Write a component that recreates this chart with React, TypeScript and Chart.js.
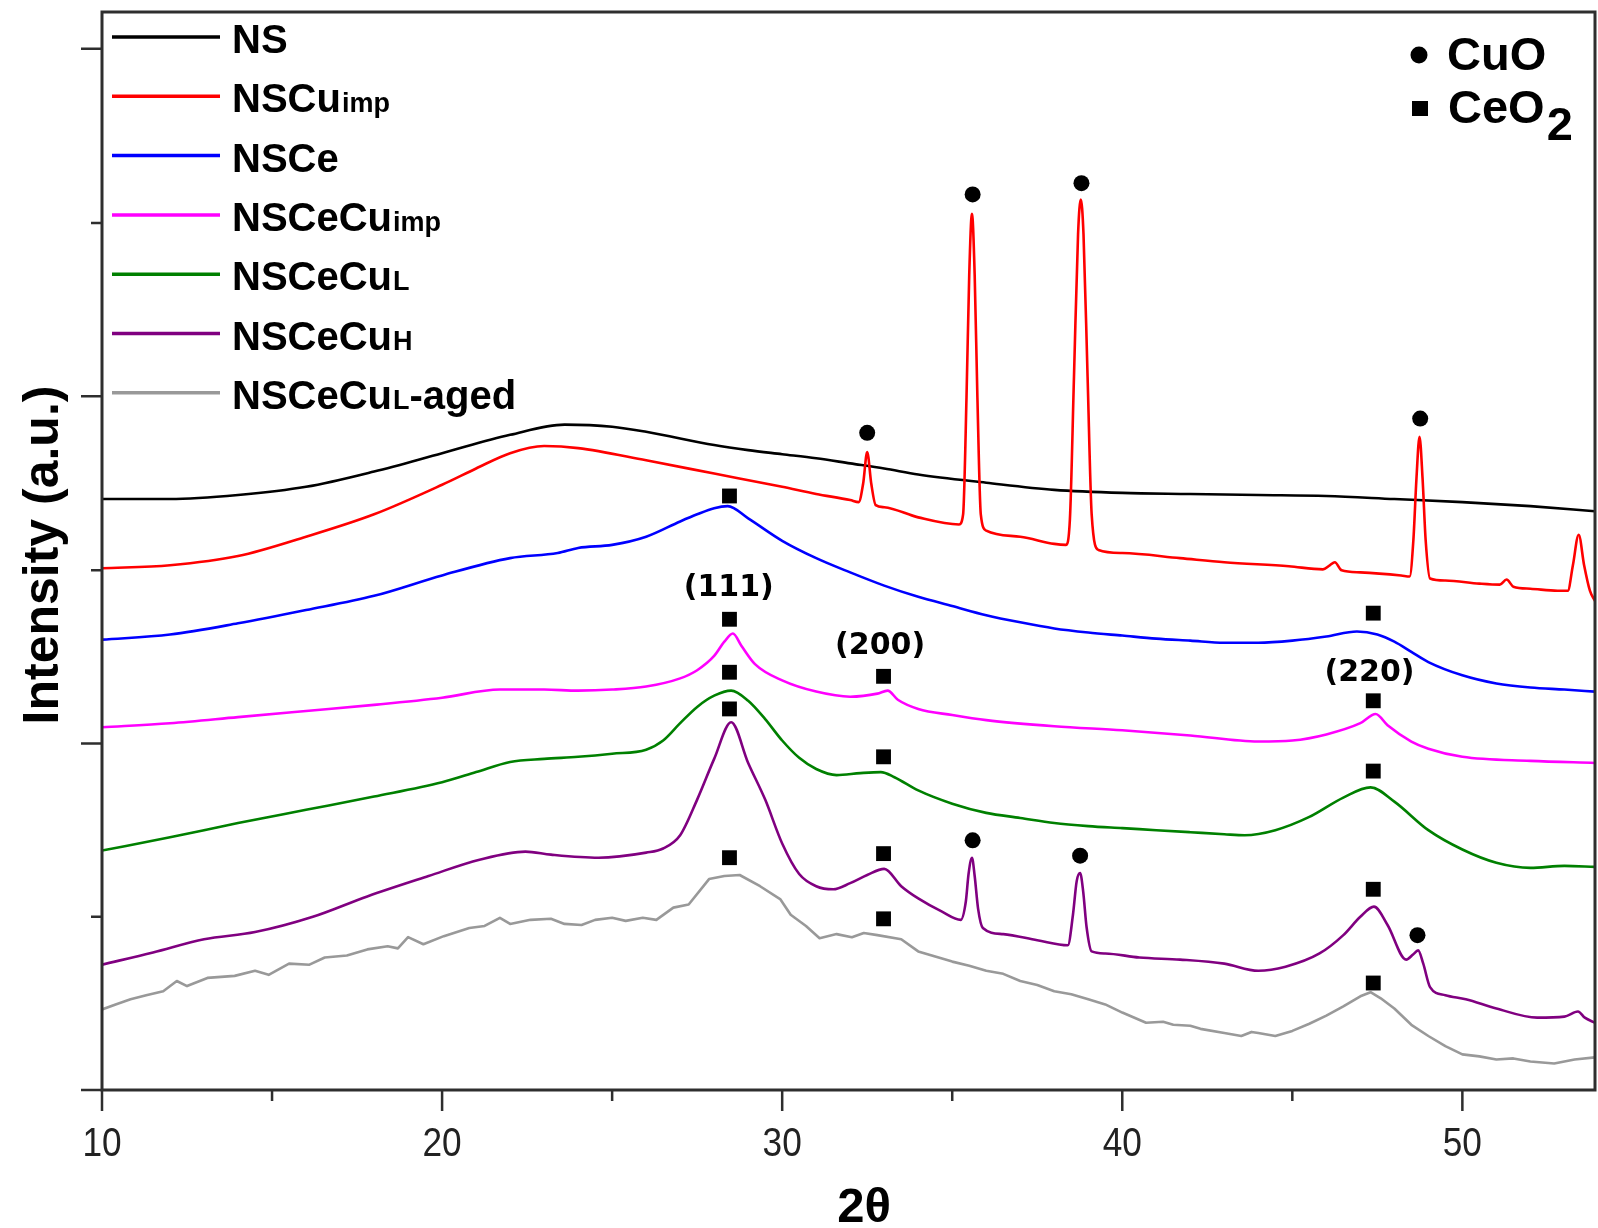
import React, { useEffect, useRef } from 'react';
import { Chart, registerables } from 'chart.js';

Chart.register(...registerables);

// ---------- axes ----------
const X_MIN = 10;
const X_MAX = 53.9;
const Y_MIN = 0;
const Y_MAX = 1058;
const X_MAJOR_TICKS = [10, 20, 30, 40, 50];
const X_TICK_LABELS = ['10', '20', '30', '40', '50'];
const X_MINOR_TICKS = [15, 25, 35, 45];
const Y_MAJOR_TICKS = [0, 340, 681, 1022];
const Y_MINOR_TICKS = [170, 510, 851];
const X_TITLE = '2θ';
const Y_TITLE = 'Intensity (a.u.)';

// ---------- series ----------
const NS_X = [10, 12, 14, 16, 18, 20, 22, 23.6, 25, 26, 28, 29, 30, 31, 32, 33, 34, 36, 38, 40, 42, 44, 46, 48, 50, 52, 53.9];
const NS_Y = [580, 580, 584, 592, 607, 625, 643, 653, 651, 646, 633, 628, 624, 620, 615, 610, 604, 596, 589, 586, 585, 584, 583, 580, 577, 573, 568];

const CU_X = [10, 12, 14, 16, 18, 20, 21, 22, 23, 24, 26, 28, 30, 31, 32, 32.25, 32.38, 32.5, 32.62, 32.75, 33, 34, 35.2, 35.32, 35.42, 35.5, 35.58, 35.66, 35.74, 35.84, 36, 37, 38, 38.34, 38.46, 38.58, 38.7, 38.78, 38.86, 38.98, 39.1, 39.3, 40, 41.7, 43, 44.9, 45.9, 46.1, 46.25, 46.45, 47, 48.2, 48.45, 48.56, 48.65, 48.74, 48.83, 48.92, 49.05, 49.5, 50.5, 51.1, 51.3, 51.5, 52, 52.8, 53.1, 53.25, 53.42, 53.58, 53.75, 53.9];
const CU_Y = [512, 515, 524, 543, 565, 594, 610, 625, 632, 630, 618, 605, 592, 585, 579, 577, 595, 626, 595, 574, 572, 562, 555, 565, 680, 800, 860, 800, 680, 565, 549, 543, 536, 535, 560, 700, 840, 874, 840, 700, 565, 530, 527, 522, 518, 514, 511, 515, 518, 510, 508, 505, 504, 540, 600, 641, 600, 540, 502, 500, 497, 496, 501, 494, 492, 490, 490, 515, 545, 515, 490, 480];

const CE_X = [10, 12, 14, 16, 18, 20, 22, 23.4, 24, 25, 26, 27, 27.5, 28, 28.4, 29, 30, 31, 32, 33, 34, 35, 36, 37, 38, 39, 40, 41, 42, 43, 44, 45, 46, 46.9, 47.5, 48, 48.5, 49, 50, 51, 52, 53, 53.9];
const CE_Y = [442, 447, 458, 471, 485, 505, 522, 527, 532, 535, 543, 558, 565, 571, 573, 561, 539, 522, 508, 495, 484, 475, 466, 459, 453, 449, 446, 443, 441, 439, 439, 441, 445, 450, 447, 440, 430, 420, 407, 399, 395, 393, 391];

const CECUIMP_X = [10, 12, 14, 16, 18, 20, 21.7, 23, 24, 25, 26, 27, 27.5, 28, 28.3, 28.55, 28.8, 29.2, 30, 31, 32, 32.8, 33.1, 33.4, 34, 35, 36, 38, 40, 42, 44, 45, 46, 47, 47.45, 47.8, 48.5, 49, 50, 52, 53.9];
const CECUIMP_Y = [356, 360, 366, 372, 378, 385, 393, 393, 392, 393, 396, 404, 412, 426, 440, 448, 436, 418, 402, 391, 386, 389, 392, 383, 374, 368, 363, 357, 353, 348, 342, 343, 349, 360, 369, 358, 342, 335, 327, 323, 321];

const CECUL_X = [10, 12, 14, 16, 18, 20, 21, 22, 23, 24, 25, 26, 26.5, 27, 27.5, 28, 28.5, 29, 29.5, 30, 30.5, 31, 31.6, 32.3, 32.9, 33.3, 34, 35, 36, 37, 38, 39, 40, 41, 42, 43, 43.6, 44.5, 45.5, 46.5, 47.3, 48, 49, 50, 51, 52, 53, 53.9];
const CECUL_Y = [235, 248, 262, 275, 288, 302, 312, 322, 325, 327, 330, 334, 343, 360, 376, 387, 392, 382, 364, 343, 326, 315, 309, 311, 312, 307, 294, 281, 272, 267, 262, 259, 257, 255, 253, 251, 250, 255, 268, 287, 297, 283, 255, 236, 223, 218, 220, 219];

const CECUH_X = [10, 11.5, 13, 14.5, 16.2, 17.8, 19.6, 21.1, 22.45, 23.2, 24.6, 26, 26.5, 27, 27.5, 28, 28.5, 29, 29.5, 30, 30.5, 31, 31.5, 32, 32.5, 33, 33.5, 34, 34.7, 35.25, 35.4, 35.48, 35.58, 35.66, 35.76, 35.9, 36.5, 37.5, 38.4, 38.55, 38.66, 38.76, 38.85, 38.95, 39.1, 39.5, 40.5, 41.7, 43, 44, 44.8, 45.8, 46.5, 47, 47.4, 47.8, 48.35, 48.55, 48.7, 48.85, 49.05, 49.5, 50.1, 51, 52.2, 53, 53.4, 53.6, 53.9];
const CECUH_Y = [123, 135, 148, 155, 170, 190, 210, 226, 234, 231, 228, 233, 237, 250, 285, 325, 361, 321, 285, 242, 212, 200, 197, 203, 211, 217, 200, 188, 175, 167, 185, 212, 228, 210, 178, 159, 153, 147, 142, 172, 205, 213, 195, 160, 136, 134, 130, 128, 124, 117, 121, 134, 152, 170, 180, 162, 128, 133, 137, 124, 101, 93, 89, 80, 71, 72, 77, 71, 66];

const AGED_X = [10, 10.4, 10.84, 11.3, 11.8, 12.2, 12.5, 13.1, 13.5, 13.9, 14.5, 14.9, 15.5, 16.1, 16.55, 17.2, 17.8, 18.4, 18.7, 19, 19.45, 20.05, 20.8, 21.25, 21.7, 22, 22.6, 23.2, 23.6, 24.1, 24.5, 25, 25.4, 25.9, 26.3, 26.8, 27.25, 27.85, 28.3, 28.75, 29.35, 29.95, 30.25, 30.7, 31.1, 31.6, 32.05, 32.4, 32.8, 33.5, 34, 34.5, 35, 35.5, 36, 36.5, 37, 37.5, 38, 38.5, 39, 39.5, 40, 40.7, 41.2, 41.5, 42, 42.3, 43, 43.5, 43.8, 44, 44.5, 45, 45.5, 46, 46.5, 47, 47.3, 47.6, 48, 48.5, 49, 49.5, 50, 50.5, 51, 51.5, 52, 52.7, 53.3, 53.9];
const AGED_Y = [79, 84, 89, 93, 97, 107, 102, 110, 111, 112, 117, 113, 124, 123, 130, 132, 138, 141, 139, 150, 143, 151, 159, 161, 169, 163, 167, 168, 163, 162, 167, 169, 166, 169, 167, 179, 182, 207, 210, 211, 200, 187, 172, 161, 149, 153, 150, 154, 152, 148, 136, 131, 126, 122, 117, 114, 107, 103, 97, 94, 89, 84, 76, 66, 67, 64, 63, 60, 56, 53, 57, 56, 53, 58, 65, 73, 82, 92, 96, 90, 80, 64, 53, 43, 35, 33, 30, 31, 28, 26, 30, 32];

const SERIES_X = [NS_X, CU_X, CE_X, CECUIMP_X, CECUL_X, CECUH_X, AGED_X];
const SERIES_Y = [NS_Y, CU_Y, CE_Y, CECUIMP_Y, CECUL_Y, CECUH_Y, AGED_Y];
const SERIES_NAMES = ['NS', 'NSCu', 'NSCe', 'NSCeCu', 'NSCeCu', 'NSCeCu', 'NSCeCu'];
const SERIES_SUBS = ['', 'imp', '', 'imp', 'L', 'H', 'L'];
const SERIES_SUFFIX = ['', '', '', '', '', '', '-aged'];
const SERIES_COLORS = ['#000000', '#ff0000', '#0000ff', '#ff00ff', '#008000', '#800080', '#999999'];
const SERIES_SMOOTH = [true, true, true, true, true, true, false];

// ---------- phase markers ----------
const CUO_X = [32.5, 35.6, 38.8, 48.76, 35.6, 38.76, 48.68];
const CUO_Y = [645, 879, 890, 659, 245, 230, 152];
const CEO2_X = [28.45, 28.45, 28.45, 28.45, 28.45, 32.98, 32.98, 32.98, 32.98, 47.38, 47.38, 47.38, 47.38, 47.38];
const CEO2_Y = [583, 462, 410, 374, 228, 406, 327, 232, 168, 468, 382, 313, 197, 105];
const PHASE_NAMES = ['CuO', 'CeO'];
const PHASE_SUBS = ['', '2'];

// ---------- hkl labels ----------
const HKL_LABELS = ['(111)', '(200)', '(220)'];
const HKL_X = [28.43, 32.88, 47.27];
const HKL_Y = [485, 428, 401];

const FONT = '"Liberation Sans", Arial, Helvetica, sans-serif';
const AXIS_COLOR = '#2e2e2e';

function pts(xs: number[], ys: number[]) {
  return xs.map((x, i) => ({ x, y: ys[i] }));
}

export default function App() {
  const ref = useRef<HTMLCanvasElement>(null);

  useEffect(() => {
    const canvas = ref.current;
    if (!canvas) return;

    const decor = {
      id: 'decor',
      afterDraw(chart: any) {
        const { ctx, chartArea: a } = chart;
        const xs = chart.scales.x;
        const ys = chart.scales.y;
        ctx.save();

        // frame
        ctx.strokeStyle = AXIS_COLOR;
        ctx.lineWidth = 3;
        ctx.strokeRect(a.left, a.top, a.right - a.left, a.bottom - a.top);

        // ticks
        ctx.lineWidth = 2.5;
        ctx.beginPath();
        X_MAJOR_TICKS.forEach((v) => {
          const p = xs.getPixelForValue(v);
          ctx.moveTo(p, a.bottom);
          ctx.lineTo(p, a.bottom + 21);
        });
        X_MINOR_TICKS.forEach((v) => {
          const p = xs.getPixelForValue(v);
          ctx.moveTo(p, a.bottom);
          ctx.lineTo(p, a.bottom + 11);
        });
        Y_MAJOR_TICKS.forEach((v) => {
          const p = ys.getPixelForValue(v);
          ctx.moveTo(a.left, p);
          ctx.lineTo(a.left - 21, p);
        });
        Y_MINOR_TICKS.forEach((v) => {
          const p = ys.getPixelForValue(v);
          ctx.moveTo(a.left, p);
          ctx.lineTo(a.left - 11, p);
        });
        ctx.stroke();

        // tick labels
        ctx.fillStyle = '#222';
        ctx.textAlign = 'center';
        ctx.textBaseline = 'alphabetic';
        ctx.font = `40px ${FONT}`;
        X_MAJOR_TICKS.forEach((v, i) => {
          const p = xs.getPixelForValue(v);
          ctx.save();
          ctx.translate(p, a.bottom + 66);
          ctx.scale(0.88, 1);
          ctx.fillText(X_TICK_LABELS[i], 0, 0);
          ctx.restore();
        });

        // axis titles
        ctx.fillStyle = '#000';
        ctx.font = `bold 49px ${FONT}`;
        ctx.fillText(X_TITLE, 864, a.bottom + 132);
        ctx.save();
        ctx.translate(58, 555);
        ctx.rotate(-Math.PI / 2);
        ctx.font = `bold 50px ${FONT}`;
        ctx.fillText(Y_TITLE, 0, 0);
        ctx.restore();

        // series legend
        ctx.textAlign = 'left';
        SERIES_NAMES.forEach((name, i) => {
          const ly = 37 + 59.3 * i;
          ctx.strokeStyle = SERIES_COLORS[i];
          ctx.lineWidth = 3.5;
          ctx.beginPath();
          ctx.moveTo(112, ly);
          ctx.lineTo(220, ly);
          ctx.stroke();
          let tx = 232;
          const by = ly + 16;
          ctx.fillStyle = '#000';
          ctx.font = `bold 40px ${FONT}`;
          ctx.fillText(name, tx, by);
          tx += ctx.measureText(name).width + 1;
          if (SERIES_SUBS[i]) {
            ctx.font = `bold 27px ${FONT}`;
            ctx.fillText(SERIES_SUBS[i], tx, by);
            tx += ctx.measureText(SERIES_SUBS[i]).width;
          }
          if (SERIES_SUFFIX[i]) {
            ctx.font = `bold 40px ${FONT}`;
            ctx.fillText(SERIES_SUFFIX[i], tx, by);
          }
        });

        // phase legend
        ctx.fillStyle = '#000';
        ctx.beginPath();
        ctx.arc(1419, 55, 8.5, 0, Math.PI * 2);
        ctx.fill();
        ctx.fillRect(1412, 101, 16, 15);
        ctx.font = `bold 47px ${FONT}`;
        ctx.fillText(PHASE_NAMES[0], 1447, 70);
        ctx.fillText(PHASE_NAMES[1], 1448, 123);
        const w = ctx.measureText(PHASE_NAMES[1]).width;
        ctx.fillText(PHASE_SUBS[1], 1448 + w + 2, 140);

        // hkl labels
        ctx.textAlign = 'center';
        ctx.font = `bold 30px "DejaVu Sans", Verdana, sans-serif`;
        HKL_LABELS.forEach((t, i) => {
          ctx.fillText(t, xs.getPixelForValue(HKL_X[i]), ys.getPixelForValue(HKL_Y[i]));
        });

        ctx.restore();
      },
    };

    const lineSets = SERIES_X.map((xsArr, i) => ({
      type: 'line' as const,
      label: SERIES_NAMES[i] + SERIES_SUBS[i] + SERIES_SUFFIX[i],
      data: pts(xsArr, SERIES_Y[i]),
      borderColor: SERIES_COLORS[i],
      backgroundColor: SERIES_COLORS[i],
      borderWidth: 2.6,
      pointRadius: 0,
      cubicInterpolationMode: SERIES_SMOOTH[i] ? ('monotone' as const) : ('default' as const),
      tension: 0,
      borderJoinStyle: 'round' as const,
      fill: false,
      order: 10 - i,
    }));

    const chart = new Chart(canvas, {
      type: 'line',
      data: {
        datasets: [
          ...lineSets,
          {
            type: 'scatter',
            label: 'CuO',
            data: pts(CUO_X, CUO_Y),
            pointStyle: 'circle',
            pointRadius: 8,
            pointBackgroundColor: '#000',
            pointBorderWidth: 0,
            showLine: false,
            order: 0,
          } as any,
          {
            type: 'scatter',
            label: 'CeO2',
            data: pts(CEO2_X, CEO2_Y),
            pointStyle: 'rect',
            pointRadius: 10.5,
            pointBackgroundColor: '#000',
            pointBorderWidth: 0,
            showLine: false,
            order: 0,
          } as any,
        ],
      },
      options: {
        responsive: false,
        animation: false,
        events: [],
        layout: { autoPadding: false, padding: { left: 102, right: 3, top: 12, bottom: 138 } },
        scales: {
          x: { type: 'linear', min: X_MIN, max: X_MAX, display: false },
          y: { type: 'linear', min: Y_MIN, max: Y_MAX, display: false },
        },
        plugins: {
          legend: { display: false },
          tooltip: { enabled: false },
          title: { display: false },
        },
      },
      plugins: [decor],
    });

    return () => chart.destroy();
  }, []);

  return (
    <div style={{ position: 'fixed', left: 0, top: 0, width: 1598, height: 1228, background: '#fff' }}>
      <canvas ref={ref} width={1598} height={1228} style={{ display: 'block', width: 1598, height: 1228 }} />
    </div>
  );
}
